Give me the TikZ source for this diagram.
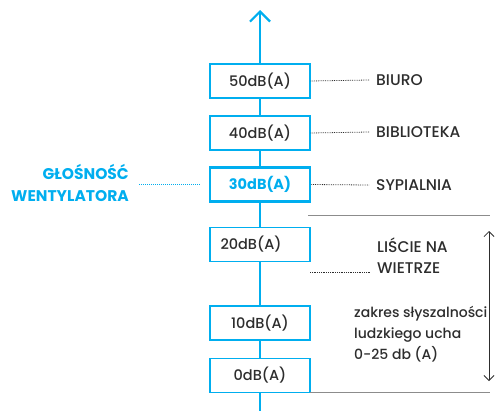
\documentclass[tikz,border=0pt]{standalone}
\usepackage{fontspec}
\setmainfont{Poppins}[UprightFont=* Medium,BoldFont=* Bold]
\usetikzlibrary{arrows.meta}
\definecolor{cyanb}{RGB}{0,174,239}
\definecolor{txt}{RGB}{45,45,45}
\begin{document}
\begin{tikzpicture}[x=1pt,y=-1pt,
  lvl/.style={draw=cyanb,line width=1.3pt,fill=white,minimum width=100pt,minimum height=34pt,inner sep=0pt,font=\fontsize{14.5}{16}\selectfont,text=txt},
  lbl/.style={anchor=west,inner sep=0pt,font=\fontsize{15.5}{21}\selectfont,text=txt},
  dots/.style={densely dotted,line width=0.8pt,draw=txt},
  grayline/.style={draw=gray!90,line width=1pt}]
\useasboundingbox (0,0) rectangle (498,410);
\coordinate (top) at (260,10);
\coordinate (bot) at (260,412);
\draw[cyanb,line width=2.2pt,-{Straight Barb[length=10pt,width=20pt,line width=2.2pt]}] (bot) -- (top);
\node[lvl] (b50) at (260,81) {50dB(A)};
\node[lvl] (b40) at (260,133) {40dB(A)};
\node[lvl,line width=2.8pt,font=\fontsize{14.5}{16}\selectfont\bfseries,text=cyanb] (b30) at (260,184.5) {30dB(A)};
\node[lvl] (b20) at (260,244.5) {\hspace*{-18pt}20dB(A)};
\node[lvl] (b10) at (260,323) {10dB(A)};
\node[lvl] (b0) at (260,375.5) {0dB(A)};
\node[lbl] (biuro) at (376,80) {BIURO};
\node[lbl] (bibl) at (376,132) {BIBLIOTEKA};
\node[lbl] (syp) at (376,185) {SYPIALNIA};
\draw[dots] (b50.east) -- ([xshift=-7pt]biuro.west);
\draw[dots] (b40.east) -- ([xshift=-7pt]bibl.west);
\draw[dots] (b30.east) -- ([xshift=-7pt]syp.west);
\node[anchor=east,align=right,inner sep=0pt,font=\fontsize{15.5}{22}\selectfont\bfseries,text=cyanb] (fan) at (129,183) {GŁOŚNOŚĆ\\WENTYLATORA};
\draw[densely dotted,cyanb,line width=1pt] ([xshift=10pt]fan.east |- b30.west) -- ([xshift=-9pt]b30.west);
\node[lbl,align=left] (lisc) at (377,256) {LIŚCIE NA\\WIETRZE};
\coordinate (lisL) at (310,272);
\draw[dots] (lisL) -- (370,272);
\node[lbl,align=left,font=\fontsize{14}{21}\selectfont] (zak) at (354,334) {zakres słyszalności\\ludzkiego ucha\\0-25 db (A)};
\coordinate (g1a) at (308,215);
\coordinate (g1b) at (490,215);
\coordinate (g2a) at (310,392);
\coordinate (g2b) at (490,392);
\draw[grayline] (g1a) -- (g1b);
\draw[grayline] (g2a) -- (g2b);
\coordinate (ra) at (489,231);
\coordinate (rb) at (489,381);
\draw[line width=0.8pt,txt,{Straight Barb[length=5pt,width=10pt]}-{Straight Barb[length=5pt,width=10pt]}] (ra) -- (rb);
\end{tikzpicture}
\end{document}
